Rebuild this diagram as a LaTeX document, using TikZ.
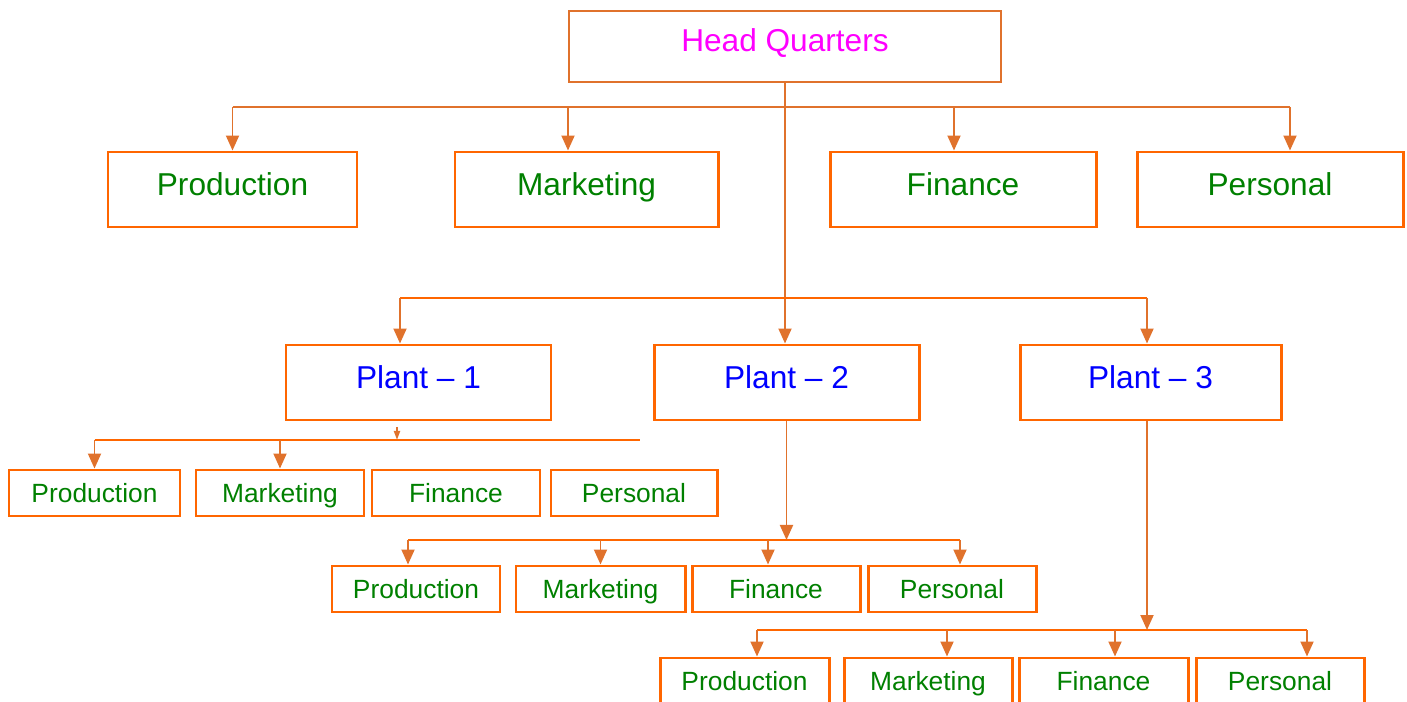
\documentclass[tikz,border=0pt]{standalone}
\usepackage{fontspec}
\setmainfont{Liberation Sans}
\usepackage{tikz}
\usetikzlibrary{arrows.meta, calc, positioning}
\definecolor{BoxOrange}{RGB}{255,102,0}
\definecolor{LineOrange}{RGB}{224,114,44}
\definecolor{HeadPink}{RGB}{255,0,255}
\definecolor{DeptGreen}{RGB}{0,128,0}
\definecolor{PlantBlue}{RGB}{0,0,255}
\tikzset{
    headbox/.style={draw=LineOrange, line width=1.1pt, minimum width=8.64cm, minimum height=1.42cm, inner sep=0pt, text height=0.45cm, text depth=0.25cm, font=\fontsize{18}{20}\selectfont, text=HeadPink},
    bigbox/.style={draw=BoxOrange, line width=1.7pt, minimum height=1.5cm, inner sep=0pt, text height=0.45cm, text depth=0.2cm, font=\fontsize{18}{20}\selectfont, text=DeptGreen},
    plantbox/.style={bigbox, text=PlantBlue},
    smallbox/.style={draw=BoxOrange, line width=1.7pt, minimum height=0.92cm, inner sep=0pt, text height=0.38cm, text depth=0cm, font=\fontsize{15}{17}\selectfont, text=DeptGreen},
    conn/.style={draw=LineOrange, line width=1.1pt},
    bus/.style={draw=BoxOrange, line width=1.6pt},
    arr/.style={conn, -{Triangle[length=0.3cm,width=0.26cm]}}
}

\begin{document}
\begin{tikzpicture}
  \useasboundingbox (0,0) rectangle (28.14,-14.04);

  \node[headbox] (hq) at (15.7,-0.93) {Head Quarters};

  \node[bigbox, minimum width=4.98cm] (prod) at (4.65,-3.79) {Production};
  \node[bigbox, minimum width=5.26cm] (mkt) at (11.73,-3.79) {Marketing};
  \node[bigbox, minimum width=5.32cm] (fin) at (19.26,-3.79) {Finance};
  \node[bigbox, minimum width=5.32cm] (pers) at (25.4,-3.79) {Personal};

  \node[plantbox, minimum width=5.3cm] (pA) at (8.37,-7.65) {Plant – 1};
  \node[plantbox, minimum width=5.3cm] (pB) at (15.73,-7.65) {Plant – 2};
  \node[plantbox, minimum width=5.22cm] (pC) at (23.01,-7.65) {Plant – 3};

  \node[smallbox, minimum width=3.42cm] (prodA) at (1.89,-9.86) {Production};
  \node[smallbox, minimum width=3.36cm] (mktA) at (5.6,-9.86) {Marketing};
  \node[smallbox, minimum width=3.36cm] (finA) at (9.12,-9.86) {Finance};
  \node[smallbox, minimum width=3.32cm] (persA) at (12.68,-9.86) {Personal};

  \node[smallbox, minimum width=3.36cm] (prodB) at (8.32,-11.78) {Production};
  \node[smallbox, minimum width=3.38cm] (mktB) at (12.01,-11.78) {Marketing};
  \node[smallbox, minimum width=3.36cm] (finB) at (15.52,-11.78) {Finance};
  \node[smallbox, minimum width=3.36cm] (persB) at (19.04,-11.78) {Personal};

  \node[smallbox, minimum width=3.38cm] (prodC) at (14.89,-13.62) {Production};
  \node[smallbox, minimum width=3.36cm] (mktC) at (18.56,-13.62) {Marketing};
  \node[smallbox, minimum width=3.38cm] (finC) at (22.07,-13.62) {Finance};
  \node[smallbox, minimum width=3.36cm] (persC) at (25.6,-13.62) {Personal};

  % head quarters to its departments
  \coordinate (busTop) at (15.7,-2.14);
  \coordinate (mktIn) at ([xshift=-0.37cm]mkt.north);
  \coordinate (finIn) at ([xshift=-0.18cm]fin.north);
  \coordinate (persIn) at ([xshift=0.4cm]pers.north);
  \draw[conn] (prod.north |- busTop) -- (persIn |- busTop);
  \draw[arr] (prod.north |- busTop) -- (prod.north);
  \draw[arr] (mktIn |- busTop) -- (mktIn);
  \draw[arr] (finIn |- busTop) -- (finIn);
  \draw[arr] (persIn |- busTop) -- (persIn);

  % head quarters to the plants
  \coordinate (busPlant) at (15.7,-5.96);
  \coordinate (pAIn) at ([xshift=-0.37cm]pA.north);
  \coordinate (pCIn) at ([xshift=-0.07cm]pC.north);
  \draw[arr] (hq.south) -- (hq.south |- pB.north);
  \draw[bus] (pAIn |- busPlant) -- (pCIn |- busPlant);
  \draw[arr] (pAIn |- busPlant) -- (pAIn);
  \draw[arr] (pCIn |- busPlant) -- (pCIn);

  % plant 1
  \coordinate (busA) at (12.8,-8.8);
  \coordinate (tickA) at (7.94,-8.54);
  \draw[bus] (prodA.north |- busA) -- (busA);
  \draw[arr] (prodA.north |- busA) -- (prodA.north);
  \draw[arr] (mktA.north |- busA) -- (mktA.north);
  \draw[conn, -{Triangle[length=0.18cm,width=0.12cm]}] (tickA) -- (tickA |- busA);

  % plant 2
  \coordinate (busB) at (15.73,-10.8);
  \coordinate (prodBIn) at ([xshift=-0.16cm]prodB.north);
  \coordinate (finBIn) at ([xshift=-0.16cm]finB.north);
  \coordinate (persBIn) at ([xshift=0.16cm]persB.north);
  \draw[arr] (pB.south) -- (pB.south |- busB);
  \draw[bus] (prodBIn |- busB) -- (persBIn |- busB);
  \draw[arr] (prodBIn |- busB) -- (prodBIn);
  \draw[arr] (mktB.north |- busB) -- (mktB.north);
  \draw[arr] (finBIn |- busB) -- (finBIn);
  \draw[arr] (persBIn |- busB) -- (persBIn);

  % plant 3
  \coordinate (busC) at (22.94,-12.6);
  \coordinate (prodCIn) at ([xshift=0.25cm]prodC.north);
  \coordinate (mktCIn) at ([xshift=0.38cm]mktC.north);
  \coordinate (finCIn) at ([xshift=0.23cm]finC.north);
  \coordinate (persCIn) at ([xshift=0.54cm]persC.north);
  \draw[arr] (busC |- pC.south) -- (busC);
  \draw[bus] (prodCIn |- busC) -- (persCIn |- busC);
  \draw[arr] (prodCIn |- busC) -- (prodCIn);
  \draw[arr] (mktCIn |- busC) -- (mktCIn);
  \draw[arr] (finCIn |- busC) -- (finCIn);
  \draw[arr] (persCIn |- busC) -- (persCIn);
\end{tikzpicture}
\end{document}
